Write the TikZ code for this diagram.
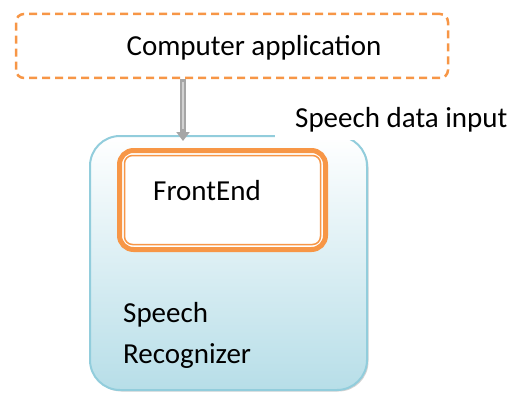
\documentclass[tikz,border=0pt]{standalone}
\usepackage{fontspec}
\setmainfont{Carlito}
\usetikzlibrary{positioning, arrows.meta, shadows}
\definecolor{appline}{HTML}{F79646}
\definecolor{recline}{HTML}{92CDDC}
\definecolor{recfill}{HTML}{B7DEE8}
\tikzset{
    appbox/.style={draw=appline, line width=2.5pt, dash pattern=on 8pt off 5pt, rounded corners=8pt, minimum width=432pt, minimum height=64pt, inner sep=0pt},
    recbox/.style={draw=recline, line width=2pt, rounded corners=30pt, top color=white, bottom color=recfill, minimum width=277pt, minimum height=254pt, inner sep=0pt, drop shadow={shadow xshift=1.5pt, shadow yshift=-1.5pt, opacity=0.35}},
    frontbox/.style={draw=appline, line width=5pt, rounded corners=14pt, fill=white, minimum width=206pt, minimum height=99pt, inner sep=0pt},
    frontin/.style={draw=appline, line width=1.5pt, rounded corners=8pt},
    lbl/.style={font=\fontsize{29}{35}\selectfont, inner sep=0pt},
    bigarrow/.style={line width=6pt, draw=gray!70, -{Triangle[length=9pt,width=13pt]}},
}
\begin{document}
\begin{tikzpicture}[x=1pt, y=1pt]
    \useasboundingbox (0,0) rectangle (515,392);

    \node[recbox] (rec) at (228.5,129) {};
    \node[lbl, anchor=base west, fill=white, inner xsep=20pt, inner ysep=8pt] (input) at (275,265) {Speech data input};

    \node[frontbox] (front) at (222.5,192) {};
    \draw[frontin] ([shift={(7.5pt,-7.5pt)}]front.north west) rectangle ([shift={(-7.5pt,7.5pt)}]front.south east);
    \node[lbl, anchor=base west] (fronttxt) at (153,192) {FrontEnd};

    \node[lbl, anchor=base west] (speech) at (123,70) {Speech};
    \node[lbl, anchor=base west] (recog) at (123,29) {Recognizer};

    \node[appbox] (app) at (232,346) {};
    \node[lbl, anchor=base] (apptxt) at (254,337) {Computer application};

    \coordinate (tip) at (183,251);
    \draw[bigarrow] (app.south -| tip) -- (tip);
    \draw[line width=2pt, gray!35] ([yshift=-3pt]app.south -| tip) -- ([yshift=12pt]tip);
\end{tikzpicture}
\end{document}
